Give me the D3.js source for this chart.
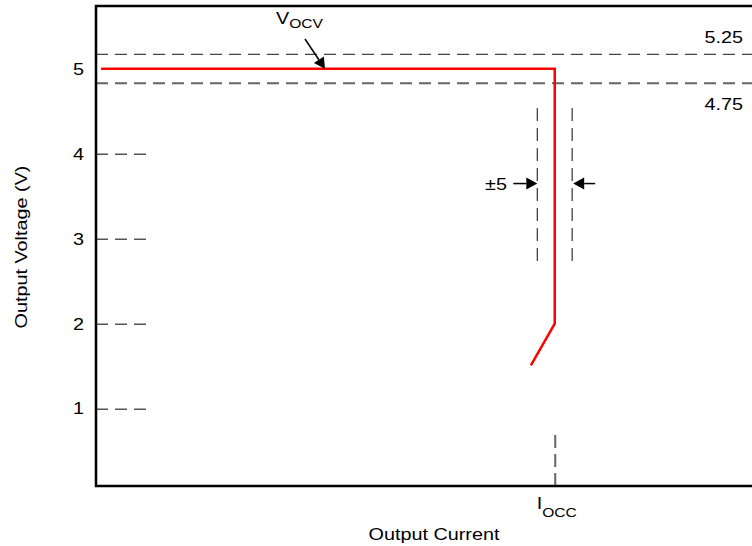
<!DOCTYPE html>
<html>
<head>
<meta charset="utf-8">
<script src="https://cdn.jsdelivr.net/npm/d3@7"></script>
<style>
  body { margin: 0; background: #fff; }
  text { font-family: "Liberation Sans", Arial, sans-serif; fill: #000; }
</style>
</head>
<body>
<div id="chart"></div>
<script>
// values (current in units of I_OCC)
const yTicks = [1, 2, 3, 4, 5];
const curveI = [0.011, 1, 1, 0.948];
const curveV = [5, 5, 2, 1.51];
const limitV = [5.17, 4.83];
const limitLabels = ["5.25", "4.75"];
const ioccI = 1;
const tolI = [0.962, 1.038];
const tolV = [2.73, 4.54];
const tolArrowV = 3.65;

const W = 752, H = 546;
const margin = {top: 6, right: 0, bottom: 60, left: 96};
const SX = 1.2; // glyphs in the picture are wide

const svg = d3.select('#chart').append('svg')
  .attr('width', W).attr('height', H);

const x = d3.scaleLinear().domain([0, 1.43]).range([margin.left, W - margin.right]);
const y = d3.scaleLinear().domain([0.09, 5.74]).range([H - margin.bottom, margin.top]);

function label(g, px, py, anchor, size, rot) {
  let tr = 'translate(' + px + ',' + py + ')' + (rot ? ' rotate(' + rot + ')' : '') + ' scale(' + SX + ',1)';
  return g.append('text').attr('transform', tr)
    .attr('text-anchor', anchor).style('font-size', size + 'px');
}

function arrow(x1, y1, x2, y2) {
  let a = Math.atan2(y2 - y1, x2 - x1), len = 11, hw = 6;
  let bx = x2 - len * Math.cos(a), by = y2 - len * Math.sin(a);
  svg.append('line')
    .attr('x1', x1).attr('y1', y1).attr('x2', bx).attr('y2', by)
    .attr('stroke', '#000').attr('stroke-width', 1.5);
  svg.append('path')
    .attr('d', d3.line()([
      [x2, y2],
      [bx + hw * Math.sin(a), by - hw * Math.cos(a)],
      [bx - hw * Math.sin(a), by + hw * Math.cos(a)]
    ]) + 'Z')
    .attr('fill', '#000');
}

// limit lines
svg.selectAll('.limit').data(limitV).enter().append('line')
  .attr('class', 'limit')
  .attr('x1', x(0)).attr('x2', W)
  .attr('y1', d => y(d)).attr('y2', d => y(d))
  .attr('stroke', (d, i) => i == 0 ? '#444' : '#666')
  .attr('stroke-width', (d, i) => i == 0 ? 1.3 : 2)
  .attr('stroke-dasharray', '12,7');

label(svg, 743, 43, 'end', 16.5).text(limitLabels[0]);
label(svg, 743, 110, 'end', 16.5).text(limitLabels[1]);

// y axis with short dashed ticks
const yAxis = d3.axisLeft(y).tickValues(yTicks).tickSize(-50).tickPadding(0).tickFormat(d3.format('d'));
const gy = svg.append('g').attr('transform', 'translate(' + margin.left + ',0)').call(yAxis);
gy.select('.domain').remove();
gy.selectAll('.tick line')
  .attr('stroke', (d) => d == 5 ? 'none' : '#555')
  .attr('stroke-width', 1.5)
  .attr('stroke-dasharray', '12,7');
gy.selectAll('.tick text')
  .attr('x', -12 / SX)
  .attr('transform', 'scale(' + SX + ',1)')
  .style('font-size', '16.5px').style('font-family', '"Liberation Sans", Arial, sans-serif')
  .attr('fill', '#000');

// x axis: only I_OCC marker
const xAxis = d3.axisBottom(x).tickValues([ioccI]).tickSize(-53).tickFormat('');
const gx = svg.append('g').attr('transform', 'translate(0,' + (H - margin.bottom) + ')').call(xAxis);
gx.select('.domain').remove();
gx.selectAll('.tick line')
  .attr('stroke', '#666').attr('stroke-width', 2).attr('stroke-dasharray', '13,6');

let tI = label(svg, x(ioccI) + 2, 509, 'middle', 16.5);
tI.append('tspan').text('I');
tI.append('tspan').attr('dy', 8).style('font-size', '13px').text('OCC');

// tolerance lines around I_OCC
svg.selectAll('.tol').data(tolI).enter().append('line')
  .attr('class', 'tol')
  .attr('x1', d => x(d)).attr('x2', d => x(d))
  .attr('y1', y(tolV[1])).attr('y2', y(tolV[0]))
  .attr('stroke', '#333').attr('stroke-width', 1.2)
  .attr('stroke-dasharray', '13,7');

arrow(x(tolI[0]) - 24, y(tolArrowV), x(tolI[0]), y(tolArrowV));
arrow(x(tolI[1]) + 23, y(tolArrowV), x(tolI[1]) + 1, y(tolArrowV));
label(svg, 507, 190, 'end', 16.5).text('±5');

// frame
svg.append('path')
  .attr('d', 'M' + W + ',' + margin.top + 'H' + margin.left + 'V' + (H - margin.bottom) + 'H' + W)
  .attr('fill', 'none').attr('stroke', '#000').attr('stroke-width', 2.5);

// the V-I curve
const pts = curveI.map((d, i) => [x(d), y(curveV[i])]);
svg.append('path')
  .attr('d', d3.line()(pts))
  .attr('fill', 'none').attr('stroke', '#ff0000').attr('stroke-width', 2.5);

// V_OCV callout
arrow(305, 39, 325, y(5));
let tV = label(svg, 276, 24, 'start', 16.5);
tV.append('tspan').text('V');
tV.append('tspan').attr('dy', 4).style('font-size', '13px').text('OCV');

// axis titles
label(svg, 434, 540, 'middle', 16.5).text('Output Current');
label(svg, 27, 247, 'middle', 16.5, -90).text('Output Voltage (V)');
</script>
</body>
</html>
